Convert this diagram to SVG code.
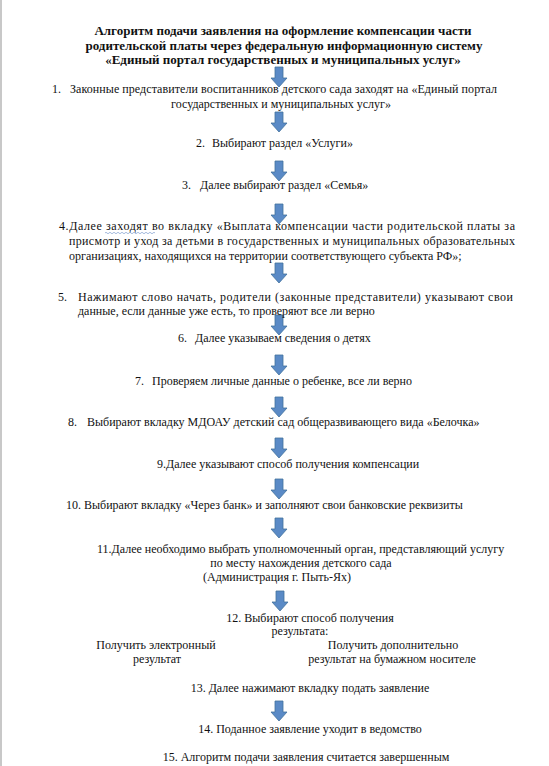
<svg xmlns="http://www.w3.org/2000/svg" xmlns:xlink="http://www.w3.org/1999/xlink" width="549" height="766" viewBox="0 0 549 766">
<style>
text{font-family:'Liberation Serif','Times New Roman',serif;font-size:12px;fill:#111}
.t{font-weight:bold;font-size:13px;text-anchor:middle}
.c{text-anchor:middle}
.arr{fill:#5a8ac6;stroke:#41719c;stroke-width:0.8}
</style>
<defs>
<path id="a" d="M-4,0 H4 V11 H8 L0,20 L-8,11 H-4 Z"/>
</defs>
<rect x="0" y="0" width="549" height="766" fill="#fff"/>
<rect x="0" y="0" width="2" height="766" fill="#c8c8c8"/>
<g id="title">
<text class="t" x="283" y="35">Алгоритм подачи заявления на оформление компенсации части</text>
<text class="t" x="284" y="50">родительской платы через федеральную информационную систему</text>
<text class="t" x="283" y="64">«Единый портал государственных и муниципальных услуг»</text>
</g>
<g id="connectors" class="arr">
<use xlink:href="#a" x="279" y="67"/>
<use xlink:href="#a" x="279" y="112"/>
<use xlink:href="#a" x="279" y="161"/>
<use xlink:href="#a" x="279" y="204"/>
<use xlink:href="#a" x="279" y="263"/>
<use xlink:href="#a" x="279" y="315"/>
<use xlink:href="#a" x="279" y="355"/>
<use xlink:href="#a" x="279" y="397"/>
<use xlink:href="#a" x="279" y="438"/>
<use xlink:href="#a" x="279" y="479"/>
<use xlink:href="#a" x="279" y="518"/>
<use xlink:href="#a" x="280" y="591"/>
<use xlink:href="#a" x="279" y="701"/>
</g>
<g id="step1">
<text x="52" y="93">1.</text>
<text x="70" y="93" textLength="427" lengthAdjust="spacing">Законные представители воспитанников детского сада заходят на «Единый портал</text>
<text class="c" x="281" y="108">государственных и муниципальных услуг»</text>
</g>
<g id="step2">
<text x="196" y="147">2.</text>
<text x="212" y="147">Выбирают раздел «Услуги»</text>
</g>
<g id="step3">
<text x="182" y="189">3.</text>
<text x="200" y="189">Далее выбирают раздел «Семья»</text>
</g>
<g id="step4">
<text x="59" y="230" textLength="456" lengthAdjust="spacing">4.Далее заходят во  вкладку «Выплата компенсации части родительской платы за</text>
<path d="M105,233 q1,-1.5 2,0 t2,0 t2,0 t2,0 t2,0 t2,0 t2,0 t2,0 t2,0 t2,0 t2,0 t2,0 t2,0 t2,0 t2,0 t2,0 t2,0 t2,0 t2,0 t2,0 t2,0 t2,0 t2,0 t2,0 t2,0" fill="none" stroke="#7f9fd0" stroke-width="0.7"/>
<text x="69" y="245" textLength="446" lengthAdjust="spacing">присмотр и уход за детьми в государственных и муниципальных образовательных</text>
<text x="69" y="260">организациях, находящихся на территории соответствующего субъекта РФ»;</text>
</g>
<g id="step5">
<text x="58" y="301">5.</text>
<text x="78" y="301" textLength="435" lengthAdjust="spacing">Нажимают слово начать, родители (законные представители) указывают свои</text>
<text x="78" y="315">данные, если данные уже есть, то проверяют все ли верно</text>
</g>
<g id="step6">
<text x="178" y="342">6.</text>
<text x="195" y="342">Далее указываем сведения о детях</text>
</g>
<g id="step7">
<text x="135" y="385">7.</text>
<text x="152" y="385">Проверяем личные данные о ребенке, все ли верно</text>
</g>
<g id="step8">
<text x="68" y="426">8.</text>
<text x="87" y="426">Выбирают вкладку МДОАУ детский сад общеразвивающего вида «Белочка»</text>
</g>
<g id="step9">
<text x="157" y="468">9.Далее указывают способ получения компенсации</text>
</g>
<g id="step10">
<text x="66" y="509">10. Выбирают вкладку «Через банк» и заполняют свои банковские реквизиты</text>
</g>
<g id="step11">
<text x="97" y="553">11.Далее необходимо выбрать уполномоченный орган, представляющий услугу</text>
<text class="c" x="301" y="567">по месту нахождения детского сада</text>
<text class="c" x="277" y="581">(Администрация г. Пыть-Ях)</text>
</g>
<g id="step12">
<text class="c" x="310" y="622">12. Выбирают способ получения</text>
<text class="c" x="300" y="635">результата:</text>
</g>
<g id="option-electronic">
<text class="c" x="156" y="649">Получить электронный</text>
<text class="c" x="157" y="663">результат</text>
</g>
<g id="option-paper">
<text class="c" x="393" y="649">Получить дополнительно</text>
<text class="c" x="392" y="663">результат на бумажном носителе</text>
</g>
<g id="step13">
<text class="c" x="310" y="692">13. Далее нажимают вкладку подать заявление</text>
</g>
<g id="step14">
<text class="c" x="310" y="733">14. Поданное заявление уходит в ведомство</text>
</g>
<g id="step15">
<text class="c" x="306" y="761">15. Алгоритм подачи заявления считается завершенным</text>
</g>
</svg>
